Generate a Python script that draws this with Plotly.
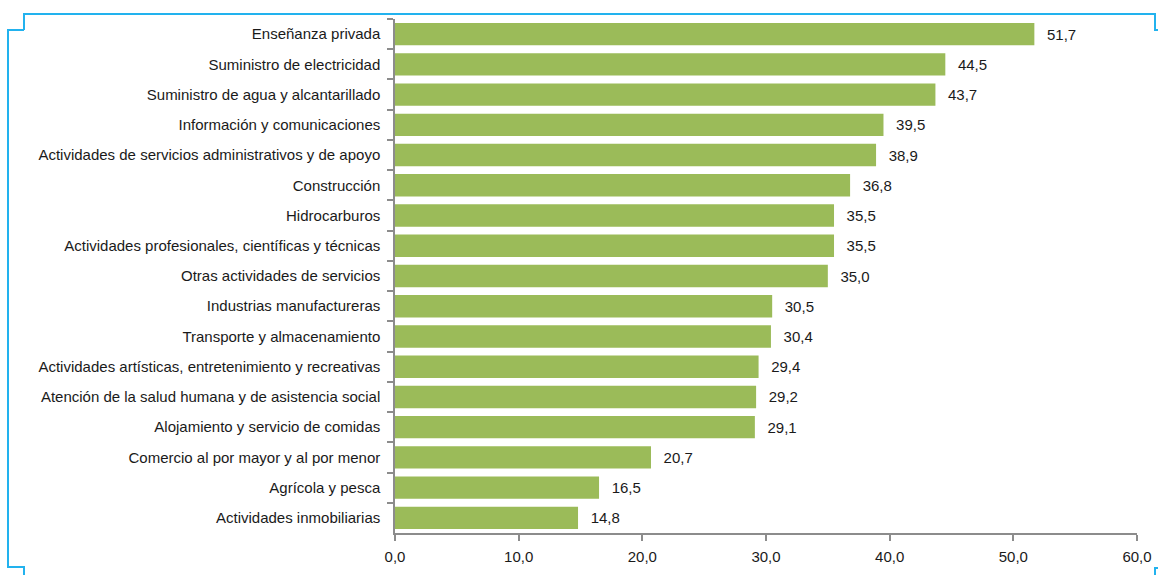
import plotly.graph_objects as go

categories = [
    "Enseñanza privada",
    "Suministro de electricidad",
    "Suministro de agua y alcantarillado",
    "Información y comunicaciones",
    "Actividades de servicios administrativos y de apoyo",
    "Construcción",
    "Hidrocarburos",
    "Actividades profesionales, científicas y técnicas",
    "Otras actividades de servicios",
    "Industrias manufactureras",
    "Transporte y almacenamiento",
    "Actividades artísticas, entretenimiento y recreativas",
    "Atención de la salud humana y de asistencia social",
    "Alojamiento y servicio de comidas",
    "Comercio al por mayor y al por menor",
    "Agrícola y pesca",
    "Actividades inmobiliarias",
]
values = [51.7, 44.5, 43.7, 39.5, 38.9, 36.8, 35.5, 35.5, 35.0, 30.5, 30.4, 29.4, 29.2, 29.1, 20.7, 16.5, 14.8]
tick_vals = [0, 10, 20, 30, 40, 50, 60]

W, H = 1158, 575
ML, MR, MT, MB = 395, 21, 19, 42
PW, PH = W - ML - MR, H - MT - MB

def px(x):
    return (x - ML) / PW

def py(y):
    return (H - MB - y) / PH

FONT = "Liberation Sans, Arial, sans-serif"
TXT = "#1a1a1a"

fig = go.Figure(go.Bar(
    x=values,
    y=categories,
    orientation="h",
    marker=dict(color="#9bbb59", line=dict(width=0)),
    text=["  \u200a" + f"{v:.1f}".replace(".", ",") for v in values],
    textposition="outside",
    textfont=dict(family=FONT, size=15, color=TXT),
    cliponaxis=False,
    width=0.74,
))

frame_color = "#22b2ee"
path = (f"M {px(24)} {py(30)} L {px(24)} {py(14)} L {px(1155)} {py(14)} L {px(1155)} {py(30)} L {px(1160)} {py(30)} "
        f"M {px(24)} {py(30)} L {px(8)} {py(30)} L {px(8)} {py(567)} L {px(24)} {py(567)} L {px(24)} {py(577)} "
        f"M {px(1155)} {py(577)} L {px(1155)} {py(568)} L {px(1160)} {py(568)}")

fig.update_layout(
    width=W, height=H,
    margin=dict(l=ML, r=MR, t=MT, b=MB, autoexpand=False),
    paper_bgcolor="white", plot_bgcolor="white",
    separators=",.",
    showlegend=False,
    font=dict(family=FONT, size=15, color=TXT),
    xaxis=dict(
        range=[0, 60], tickvals=tick_vals, tickformat=".1f",
        showgrid=False, zeroline=False, automargin=False,
        showline=True, linecolor="#8c8c8c", linewidth=1.5,
        ticks="outside", ticklen=6, tickcolor="#8c8c8c", tickwidth=1.5,
        ticklabelstandoff=3,
        tickfont=dict(size=15, color=TXT),
    ),
    yaxis=dict(
        autorange="reversed", showgrid=False, zeroline=False, automargin=False,
        showline=True, linecolor="#8c8c8c", linewidth=1.5,
        ticks="outside", ticklen=6, tickcolor="#8c8c8c", tickwidth=1.5,
        tickson="boundaries", ticklabelstandoff=10,
        tickfont=dict(size=15, color=TXT),
    ),
    shapes=[dict(type="path", path=path, xref="paper", yref="paper",
                 line=dict(color=frame_color, width=2), layer="above")],
)

fig.write_html("out.html")
